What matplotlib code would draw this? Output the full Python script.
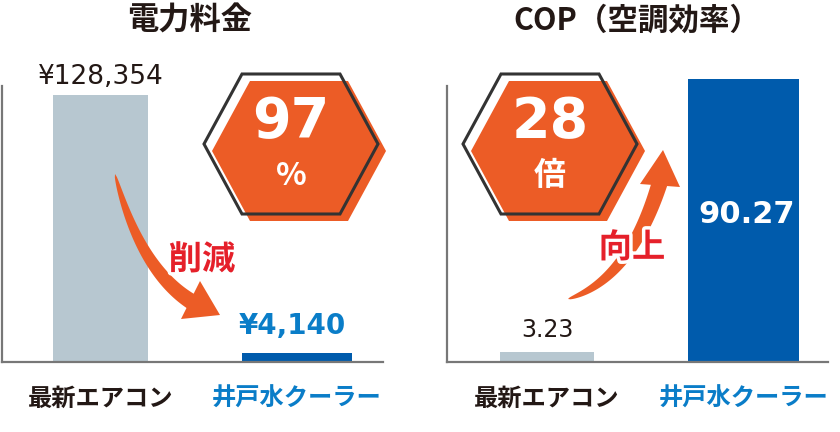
import numpy as np
import matplotlib
matplotlib.use('Agg')
import matplotlib.pyplot as plt
from matplotlib.patches import Polygon
import matplotlib.patheffects as pe

plt.rcParams['font.family'] = ['Noto Sans CJK JP', 'DejaVu Sans']

# データ
categories = ['最新エアコン', '井戸水クーラー']
cost_values = [128354, 4140]
cost_labels = ['¥128,354', '¥4,140']
cop_values = [3.23, 90.27]
cop_labels = ['3.23', '90.27']
titles = ['電力料金', 'COP（空調効率）']
badges = [('97', '%'), ('28', '倍')]
notes = ['削減', '向上']

W, H = 840, 432
GRAY = '#B7C7D0'
BLUE = '#005BAC'
LBLUE = '#0A7DC8'
ORANGE = '#EC5C26'
RED = '#E5202A'
DARK = '#231815'
AXIS = '#777777'

fig = plt.figure(figsize=(W / 100, H / 100), dpi=100)


def fx(x, y):
    return (x / W, 1 - y / H)


def make_ax(x0, x1, y0, y1):
    ax = fig.add_axes([x0 / W, 1 - y1 / H, (x1 - x0) / W, (y1 - y0) / H])
    for s in ['top', 'right']:
        ax.spines[s].set_visible(False)
    for s in ['left', 'bottom']:
        ax.spines[s].set_color(AXIS)
        ax.spines[s].set_linewidth(1.6)
    ax.set_yticks([])
    ax.set_xticks([0, 1])
    ax.set_xticklabels(categories, fontsize=17.5, fontweight='bold')
    ax.get_xticklabels()[0].set_color(DARK)
    ax.get_xticklabels()[1].set_color(LBLUE)
    ax.tick_params(axis='x', length=0, pad=18)
    return ax


# 左：電力料金
ax1 = make_ax(2, 383, 86, 362)
ax1.bar([0, 1], cost_values, width=[0.483, 0.56], color=[GRAY, BLUE], clip_on=False)
ax1.set_xlim(-0.501, 1.438)
ax1.set_ylim(0, 132700)
ax1.annotate(cost_labels[0], (0, cost_values[0]), xytext=(0, 13), textcoords='offset points',
             ha='center', va='center', fontsize=19, color=DARK, family=['DejaVu Sans'],
             annotation_clip=False)
ax1.annotate(cost_labels[1], (1, cost_values[1]), xytext=(-3, 20), textcoords='offset points',
             ha='center', va='center', fontsize=20, color=LBLUE, fontweight='bold',
             family=['DejaVu Sans'], annotation_clip=False)

# 右：COP
ax2 = make_ax(447, 828, 86, 362)
ax2.bar([0, 1], cop_values, width=[0.478, 0.565], color=[GRAY, BLUE], clip_on=False)
ax2.set_xlim(-0.509, 1.43)
ax2.set_ylim(0, 88)
ax2.annotate(cop_labels[0], (0, cop_values[0]), xytext=(0, 16), textcoords='offset points',
             ha='center', va='center', fontsize=17, color=DARK, family=['DejaVu Sans'],
             annotation_clip=False)
ax2.annotate(cop_labels[1], (1, cop_values[1]), xytext=(2, -98), textcoords='offset points',
             ha='center', va='center', fontsize=22, color='white', fontweight='bold',
             family=['DejaVu Sans'], annotation_clip=False)

# タイトル
fig.text(*fx(190, 21), titles[0], ha='center', va='center', fontsize=22.5, fontweight='bold', color=DARK)
fig.text(*fx(637, 21), titles[1], ha='center', va='center', fontsize=22, fontweight='bold', color=DARK)


def hexagon(cx, cy, hw=87, tw=49, hh=70):
    return [(cx - hw, cy), (cx - tw, cy - hh), (cx + tw, cy - hh),
            (cx + hw, cy), (cx + tw, cy + hh), (cx - tw, cy + hh)]


for (cx, cy), (big, small) in zip([(291, 144), (550, 144)], badges):
    fill = Polygon([fx(x + 8, y + 7) for x, y in hexagon(cx, cy)], closed=True,
                   transform=fig.transFigure, facecolor=ORANGE, edgecolor='none')
    line = Polygon([fx(x, y) for x, y in hexagon(cx, cy)], closed=True,
                   transform=fig.transFigure, facecolor='none', edgecolor='#333333', lw=2.2)
    fig.patches.extend([fill, line])
    fig.text(*fx(cx, cy - 22), big, ha='center', va='center', fontsize=40, fontweight='bold',
             color='white', family=['DejaVu Sans'])
    fig.text(*fx(cx, cy + 32), small, ha='center', va='center', fontsize=23, fontweight='bold', color='white')


def curved_arrow(p0, c, p1, tip, base_a, base_b, wmax=16):
    t = np.linspace(0, 1, 60)
    pts = np.array([(1 - t) ** 2 * p0[i] + 2 * (1 - t) * t * c[i] + t ** 2 * p1[i] for i in range(2)]).T
    d = np.gradient(pts, axis=0)
    n = np.stack([-d[:, 1], d[:, 0]], axis=1)
    n /= np.linalg.norm(n, axis=1)[:, None]
    w = wmax * np.sqrt(t) / 2
    left = pts + n * w[:, None]
    right = pts - n * w[:, None]
    body = np.vstack([left, right[::-1]])
    fig.patches.append(Polygon([fx(x, y) for x, y in body], closed=True, transform=fig.transFigure,
                               facecolor=ORANGE, edgecolor='none'))
    fig.patches.append(Polygon([fx(*base_a), fx(*tip), fx(*base_b)], closed=True, transform=fig.transFigure,
                               facecolor=ORANGE, edgecolor='none'))


curved_arrow((115, 174), (140, 270), (192, 302), (220, 315), (181, 319), (200, 281))
curved_arrow((568, 299), (630, 280), (660, 182), (663, 150), (640, 184), (680, 187))

for (x, y), s in zip([(202, 260), (632, 248)], notes):
    fig.text(*fx(x, y), s, ha='center', va='center', fontsize=24, fontweight='bold', color=RED,
             path_effects=[pe.withStroke(linewidth=5, foreground='white')])

fig.savefig('out.png', dpi=100)
